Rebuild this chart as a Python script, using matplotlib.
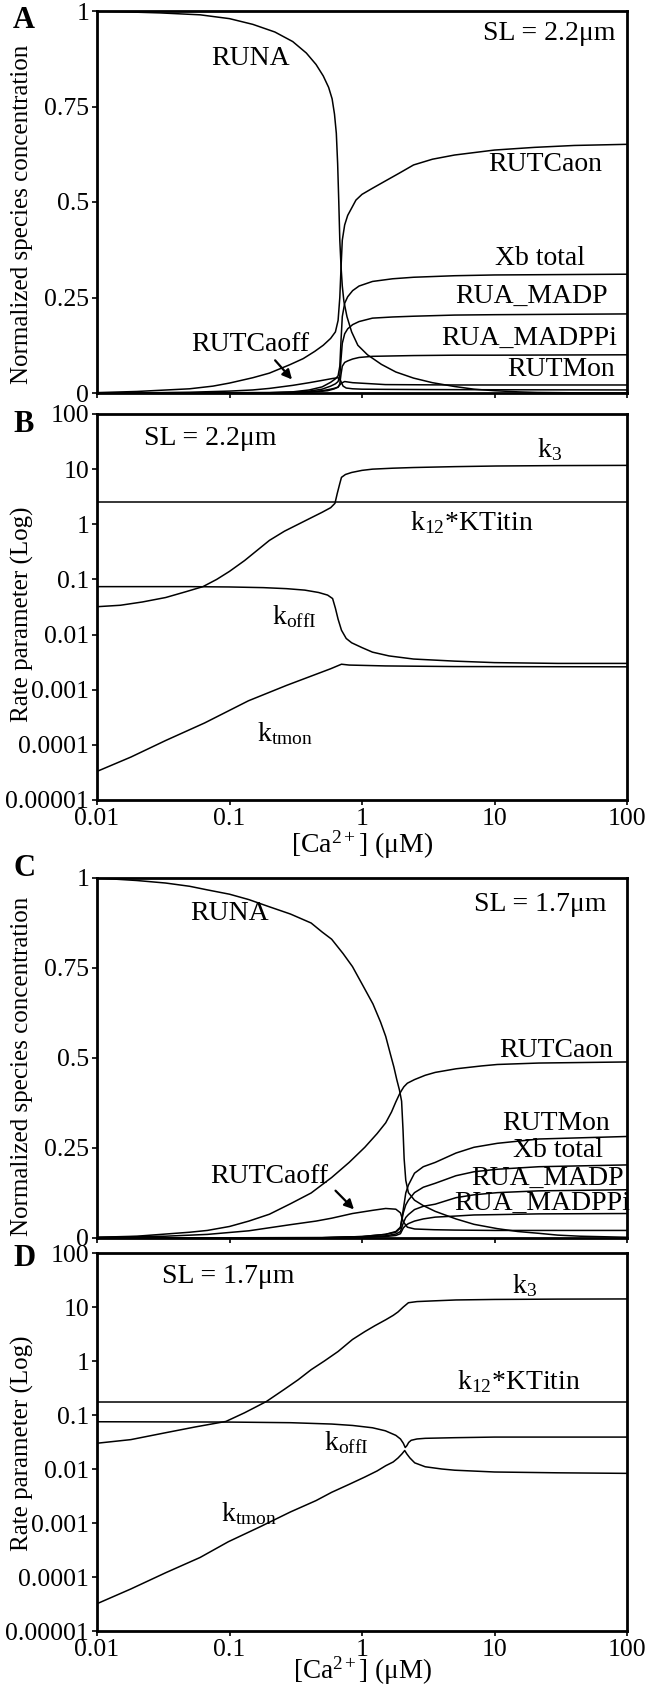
import matplotlib
matplotlib.use("Agg")
import matplotlib.pyplot as plt

plt.rcParams['font.family'] = ['Liberation Serif', 'DejaVu Serif']
plt.rcParams['mathtext.fontset'] = 'custom'
plt.rcParams['mathtext.rm'] = 'Liberation Serif'
plt.rcParams['mathtext.it'] = 'Liberation Serif:italic'

# ---------------- panel A : species, SL = 2.2 um ----------------
ca_runa_a = [0.01, 0.03, 0.06, 0.1, 0.15, 0.22, 0.3, 0.38, 0.45, 0.51, 0.56, 0.595, 0.62, 0.64, 0.655, 0.668, 0.68,
             0.695, 0.71, 0.73, 0.77, 0.835, 0.93, 1.1, 1.4, 1.8, 2.45, 3.4, 5, 7, 10, 15, 21, 40, 100]
runa_a = [1.0, 0.995, 0.99, 0.98, 0.965, 0.945, 0.92, 0.89, 0.86, 0.83, 0.80, 0.77, 0.73, 0.68, 0.60, 0.50, 0.40,
          0.33, 0.28, 0.24, 0.20, 0.16, 0.125, 0.10, 0.075, 0.055, 0.039, 0.027, 0.017, 0.01, 0.006, 0.003, 0.0015, 0.0005, 0.0]
ca_caon_a = [0.01, 0.02, 0.05, 0.075, 0.1, 0.15, 0.2, 0.285, 0.36, 0.44, 0.51, 0.58, 0.63, 0.66, 0.68, 0.695, 0.71,
             0.74, 0.78, 0.835, 0.9, 1.0, 1.2, 1.5, 1.9, 2.45, 3.4, 5, 10, 20, 40, 100]
caon_a = [0.001, 0.004, 0.011, 0.018, 0.026, 0.04, 0.052, 0.074, 0.09, 0.109, 0.125, 0.143, 0.16, 0.19, 0.25, 0.33, 0.40,
          0.44, 0.465, 0.484, 0.505, 0.52, 0.536, 0.555, 0.575, 0.597, 0.612, 0.623, 0.636, 0.643, 0.648, 0.651]
ca_caoff_a = [0.01, 0.03, 0.05, 0.1, 0.15, 0.2, 0.3, 0.4, 0.5, 0.6, 0.66, 0.69, 0.72, 0.76, 0.85, 1.0, 1.5, 3, 10, 100]
caoff_a = [0.0, 0.001, 0.002, 0.005, 0.008, 0.012, 0.02, 0.027, 0.033, 0.038, 0.04, 0.032, 0.018, 0.013, 0.011, 0.01,
           0.0095, 0.009, 0.0085, 0.008]
ca_xb_a = [0.01, 0.2, 0.3, 0.4, 0.5, 0.58, 0.63, 0.66, 0.68, 0.695, 0.71, 0.74, 0.78, 0.85, 0.95, 1.2, 1.7, 2.45, 5, 10, 100]
xbtot_a = [0.0, 0.001, 0.003, 0.008, 0.016, 0.028, 0.037, 0.045, 0.07, 0.14, 0.2, 0.235, 0.252, 0.268, 0.28, 0.292,
           0.299, 0.303, 0.307, 0.309, 0.311]
madp_a = [0.0, 0.0006, 0.002, 0.005, 0.01, 0.018, 0.024, 0.03, 0.046, 0.09, 0.13, 0.155, 0.168, 0.179, 0.187, 0.196,
          0.199, 0.201, 0.204, 0.205, 0.207]
madppi_a = [0.0, 0.0004, 0.001, 0.003, 0.006, 0.01, 0.013, 0.015, 0.024, 0.05, 0.07, 0.08, 0.084, 0.089, 0.093, 0.096,
            0.097, 0.098, 0.099, 0.099, 0.10]
ca_tmon_a = [0.01, 0.3, 0.45, 0.55, 0.62, 0.66, 0.70, 0.74, 0.85, 1.2, 1.5, 5, 100]
tmon_a = [0.0, 0.001, 0.003, 0.006, 0.011, 0.016, 0.026, 0.03, 0.027, 0.024, 0.022, 0.021, 0.021]

# ---------------- panel B : rates, SL = 2.2 um ----------------
ca_k3_b = [0.01, 0.015, 0.022, 0.033, 0.047, 0.063, 0.08, 0.1, 0.13, 0.16, 0.2, 0.26, 0.33, 0.41, 0.5, 0.58, 0.625,
           0.65, 0.68, 0.70, 0.75, 0.835, 1.0, 1.2, 1.7, 2.45, 5, 10.3, 30, 100]
k3_b = [0.032, 0.034, 0.039, 0.047, 0.06, 0.074, 0.1, 0.14, 0.22, 0.33, 0.51, 0.75, 1.0, 1.3, 1.65, 2.0, 2.4,
        3.6, 5.5, 7.1, 8.0, 8.7, 9.5, 10.0, 10.4, 10.7, 11.1, 11.4, 11.6, 11.7]
ca_koff_b = [0.01, 0.05, 0.1, 0.18, 0.27, 0.37, 0.47, 0.55, 0.6, 0.63, 0.66, 0.70, 0.76, 0.835, 1.0, 1.2, 1.6, 2.45,
             5, 10, 30, 100]
koff_b = [0.074, 0.074, 0.073, 0.071, 0.068, 0.064, 0.058, 0.052, 0.045, 0.03, 0.019, 0.012, 0.0085, 0.0071, 0.0058,
          0.0048, 0.0041, 0.0036, 0.0033, 0.0031, 0.003, 0.003]
ca_ktmon_b = [0.01, 0.018, 0.033, 0.065, 0.139, 0.27, 0.58, 0.70, 0.8, 1.5, 5, 100]
ktmon_b = [3.3e-5, 6e-5, 1.2e-4, 2.5e-4, 6.3e-4, 1.2e-3, 2.4e-3, 2.9e-3, 2.8e-3, 2.7e-3, 2.63e-3, 2.6e-3]
k12_b = 2.5

# ---------------- panel C : species, SL = 1.7 um ----------------
ca_runa_c = [0.01, 0.02, 0.033, 0.05, 0.068, 0.1, 0.14, 0.2, 0.288, 0.413, 0.5, 0.59, 0.72, 0.847, 1.02, 1.21, 1.38,
             1.51, 1.64, 1.74, 1.83, 1.92, 1.99, 2.04, 2.08, 2.14, 2.24, 2.49, 2.9, 3.57, 5.12, 7, 10.5, 15, 21.6, 30,
             44, 100]
runa_c = [1.0, 0.993, 0.986, 0.977, 0.967, 0.955, 0.94, 0.92, 0.90, 0.875, 0.85, 0.83, 0.79, 0.754, 0.70, 0.65, 0.60,
          0.56, 0.51, 0.475, 0.44, 0.41, 0.38, 0.30, 0.22, 0.16, 0.126, 0.105, 0.09, 0.074, 0.053, 0.038, 0.026, 0.018,
          0.013, 0.008, 0.005, 0.002]
ca_caon_c = [0.01, 0.02, 0.033, 0.05, 0.068, 0.1, 0.14, 0.2, 0.288, 0.413, 0.59, 0.8, 1.05, 1.3, 1.51, 1.67, 1.8, 1.92,
             1.99, 2.07, 2.2, 2.49, 3.0, 3.57, 5.12, 8, 10.5, 21.6, 100]
caon_c = [0.002, 0.005, 0.011, 0.016, 0.021, 0.032, 0.047, 0.066, 0.095, 0.125, 0.168, 0.21, 0.252, 0.29, 0.32, 0.35,
          0.378, 0.40, 0.41, 0.42, 0.43, 0.44, 0.452, 0.46, 0.47, 0.478, 0.482, 0.486, 0.489]
ca_caoff_c = [0.01, 0.033, 0.068, 0.14, 0.288, 0.45, 0.59, 0.847, 1.21, 1.51, 1.8, 1.95, 2.05, 2.2, 2.5, 3.5, 5, 10, 100]
caoff_c = [0.002, 0.005, 0.01, 0.02, 0.037, 0.047, 0.055, 0.068, 0.077, 0.082, 0.08, 0.07, 0.045, 0.03, 0.025, 0.023,
           0.022, 0.021, 0.021]
ca_xb_c = [0.01, 0.5, 1.0, 1.5, 1.8, 1.95, 2.05, 2.14, 2.24, 2.49, 2.9, 3.57, 5.12, 7, 10.5, 21.6, 100]
tmon_c = [0.0, 0.001, 0.004, 0.01, 0.016, 0.028, 0.08, 0.125, 0.147, 0.18, 0.198, 0.21, 0.236, 0.252, 0.263, 0.275, 0.282]
xbtot_c = [0.0, 0.001, 0.004, 0.01, 0.018, 0.03, 0.07, 0.092, 0.105, 0.126, 0.141, 0.152, 0.173, 0.184, 0.191, 0.198, 0.203]
madp_c = [0.0, 0.0006, 0.0025, 0.006, 0.011, 0.018, 0.042, 0.057, 0.065, 0.079, 0.088, 0.094, 0.112, 0.12, 0.126, 0.131, 0.134]
madppi_c = [0.0, 0.0004, 0.0015, 0.004, 0.007, 0.012, 0.028, 0.035, 0.04, 0.047, 0.053, 0.058, 0.061, 0.064, 0.065, 0.067, 0.068]

# ---------------- panel D : rates, SL = 1.7 um ----------------
ca_k3_d = [0.01, 0.018, 0.033, 0.055, 0.094, 0.13, 0.19, 0.26, 0.33, 0.413, 0.52, 0.66, 0.847, 1.05, 1.25, 1.51, 1.72,
           1.87, 2.05, 2.24, 2.6, 3.5, 5.12, 10, 30, 100]
k3_d = [0.030, 0.035, 0.047, 0.06, 0.076, 0.11, 0.178, 0.3, 0.45, 0.69, 1.0, 1.5, 2.5, 3.5, 4.5, 5.8, 7.0, 8.1, 10,
        12.0, 12.6, 13.0, 13.5, 13.8, 14.0, 14.1]
ca_koff_d = [0.01, 0.1, 0.29, 0.59, 0.85, 1.2, 1.5, 1.8, 1.95, 2.05, 2.12, 2.18, 2.25, 2.35, 2.6, 3.0, 5, 10, 100]
koff_d = [0.075, 0.074, 0.072, 0.068, 0.064, 0.058, 0.051, 0.042, 0.036, 0.03, 0.025, 0.027, 0.031, 0.034, 0.036,
          0.037, 0.038, 0.039, 0.039]
ca_ktmon_d = [0.01, 0.018, 0.033, 0.06, 0.098, 0.17, 0.288, 0.45, 0.59, 0.8, 1.05, 1.3, 1.51, 1.72, 1.87, 2.0, 2.1,
              2.18, 2.3, 2.5, 3, 4, 5, 10, 30, 100]
ktmon_d = [3.2e-5, 6e-5, 1.2e-4, 2.3e-4, 4.5e-4, 8.5e-4, 1.6e-3, 2.6e-3, 3.7e-3, 5.2e-3, 7.1e-3, 9.2e-3, 0.0115,
           0.0135, 0.016, 0.019, 0.022, 0.019, 0.016, 0.013, 0.011, 0.01, 0.0095, 0.0088, 0.0085, 0.0083]
k12_d = 0.177

ca_range = [0.01, 100]
lin_ticks = [0, 0.25, 0.5, 0.75, 1]
lin_labels = ['0', '0.25', '0.5', '0.75', '1']
log_ticks = [1e-5, 1e-4, 1e-3, 1e-2, 1e-1, 1, 10, 100]
log_labels = ['0.00001', '0.0001', '0.001', '0.01', '0.1', '1', '10', '100']
x_ticks = [0.01, 0.1, 1, 10, 100]
x_labels = ['0.01', '0.1', '1', '10', '100']

W, H = 649, 1686
fig = plt.figure(figsize=(W / 100, H / 100), dpi=100)


def make_axes(top, bottom):
    ax = fig.add_axes([97 / W, 1 - bottom / H, 530 / W, (bottom - top) / H])
    ax.set_xscale('log')
    ax.set_xlim(0.01, 100)
    ax.minorticks_off()
    for s in ax.spines.values():
        s.set_linewidth(2.0)
    ax.tick_params(direction='out', length=3.6, width=1.2, labelsize=18.5, pad=2)
    ax.tick_params(axis='x', pad=2)
    ax.set_xticks(x_ticks)
    return ax


LW = 1.1
FS = 20
kw = dict(color='black', lw=LW)
arrow = dict(arrowstyle='-|>', color='black', lw=1.6, mutation_scale=14)
xlab = r'[Ca$^{\mathrm{2+}}$] (μM)'

# ---- A ----
axA = make_axes(11, 393)
axA.plot(ca_runa_a, runa_a, **kw)
axA.plot(ca_caon_a, caon_a, **kw)
axA.plot(ca_caoff_a, caoff_a, **kw)
axA.plot(ca_xb_a, xbtot_a, **kw)
axA.plot(ca_xb_a, madp_a, **kw)
axA.plot(ca_xb_a, madppi_a, **kw)
axA.plot(ca_tmon_a, tmon_a, **kw)
axA.set_ylim(0, 1)
axA.set_yticks(lin_ticks)
axA.set_yticklabels(lin_labels)
axA.set_xticklabels([])
axA.text(82, 0.94, 'SL = 2.2μm', fontsize=FS, ha='right', va='center')
axA.text(0.144, 0.876, 'RUNA', fontsize=FS, ha='center', va='center')
axA.text(24.3, 0.597, 'RUTCaon', fontsize=FS, ha='center', va='center')
axA.text(21.9, 0.351, 'Xb total', fontsize=FS, ha='center', va='center')
axA.text(18.9, 0.253, 'RUA_MADP', fontsize=FS, ha='center', va='center')
axA.text(18.3, 0.142, 'RUA_MADPPi', fontsize=FS, ha='center', va='center')
axA.text(32, 0.061, 'RUTMon', fontsize=FS, ha='center', va='center')
axA.text(0.144, 0.126, 'RUTCaoff', fontsize=FS, ha='center', va='center')
axA.annotate('', xy=(0.306, 0.030), xytext=(0.214, 0.091), arrowprops=arrow)

# ---- B ----
axB = make_axes(414, 800)
axB.set_yscale('log')
axB.plot(ca_k3_b, k3_b, **kw)
axB.plot(ca_range, [k12_b, k12_b], **kw)
axB.plot(ca_koff_b, koff_b, **kw)
axB.plot(ca_ktmon_b, ktmon_b, **kw)
axB.set_ylim(1e-5, 100)
axB.set_yticks(log_ticks)
axB.set_yticklabels(log_labels)
axB.minorticks_off()
axB.set_xticklabels(x_labels)
axB.text(0.071, 36, 'SL = 2.2μm', fontsize=FS, ha='center', va='center')
axB.text(26, 22.5, r'k$_{\mathrm{3}}$', fontsize=FS, ha='center', va='center')
axB.text(6.7, 1.07, r'k$_{\mathrm{12}}$*KTitin', fontsize=FS, ha='center', va='center')
axB.text(0.31, 0.021, r'k$_{\mathrm{offI}}$', fontsize=FS, ha='center', va='center')
axB.text(0.26, 1.6e-4, r'k$_{\mathrm{tmon}}$', fontsize=FS, ha='center', va='center')
fig.text(362 / W, 1 - 853 / H, xlab, fontsize=FS, ha='center', va='baseline')

# ---- C ----
axC = make_axes(878, 1238)
axC.plot(ca_runa_c, runa_c, **kw)
axC.plot(ca_caon_c, caon_c, **kw)
axC.plot(ca_caoff_c, caoff_c, **kw)
axC.plot(ca_xb_c, tmon_c, **kw)
axC.plot(ca_xb_c, xbtot_c, **kw)
axC.plot(ca_xb_c, madp_c, **kw)
axC.plot(ca_xb_c, madppi_c, **kw)
axC.set_ylim(0, 1)
axC.set_yticks(lin_ticks)
axC.set_yticklabels(lin_labels)
axC.set_xticklabels([])
axC.text(22, 0.926, 'SL = 1.7μm', fontsize=FS, ha='center', va='center')
axC.text(0.10, 0.902, 'RUNA', fontsize=FS, ha='center', va='center')
axC.text(29, 0.521, 'RUTCaon', fontsize=FS, ha='center', va='center')
axC.text(29, 0.317, 'RUTMon', fontsize=FS, ha='center', va='center')
axC.text(30, 0.242, 'Xb total', fontsize=FS, ha='center', va='center')
axC.text(25, 0.165, 'RUA_MADP', fontsize=FS, ha='center', va='center')
axC.text(23, 0.095, 'RUA_MADPPi', fontsize=FS, ha='center', va='center')
axC.text(0.2, 0.17, 'RUTCaoff', fontsize=FS, ha='center', va='center')
axC.annotate('', xy=(0.9, 0.074), xytext=(0.61, 0.137), arrowprops=arrow)

# ---- D ----
axD = make_axes(1253, 1631)
axD.set_yscale('log')
axD.plot(ca_k3_d, k3_d, **kw)
axD.plot(ca_range, [k12_d, k12_d], **kw)
axD.plot(ca_koff_d, koff_d, **kw)
axD.plot(ca_ktmon_d, ktmon_d, **kw)
axD.set_ylim(1e-5, 100)
axD.set_yticks(log_ticks)
axD.set_yticklabels(log_labels)
axD.minorticks_off()
axD.set_xticklabels(x_labels)
axD.text(0.098, 37.5, 'SL = 1.7μm', fontsize=FS, ha='center', va='center')
axD.text(16.8, 25, r'k$_{\mathrm{3}}$', fontsize=FS, ha='center', va='center')
axD.text(15.2, 0.42, r'k$_{\mathrm{12}}$*KTitin', fontsize=FS, ha='center', va='center')
axD.text(0.76, 0.031, r'k$_{\mathrm{offI}}$', fontsize=FS, ha='center', va='center')
axD.text(0.14, 0.0015, r'k$_{\mathrm{tmon}}$', fontsize=FS, ha='center', va='center')
fig.text(362 / W, 1 - 1679 / H, xlab, fontsize=19.5, ha='center', va='baseline')

# y labels and panel letters
ylab = dict(rotation=90, fontsize=18, ha='center', va='center')
fig.text(22 / W, 1 - 214 / H, 'Normalized species concentration', **ylab)
fig.text(22 / W, 1 - 614 / H, 'Rate parameter (Log)', **ylab)
fig.text(22 / W, 1 - 1066 / H, 'Normalized species concentration', **ylab)
fig.text(22 / W, 1 - 1443 / H, 'Rate parameter (Log)', **ylab)
for letter, ypx in [('A', 20), ('B', 424), ('C', 868), ('D', 1258)]:
    fig.text(24 / W, 1 - ypx / H, letter, fontsize=22, fontweight='bold', ha='center', va='center')

fig.savefig('out.png', dpi=100)
